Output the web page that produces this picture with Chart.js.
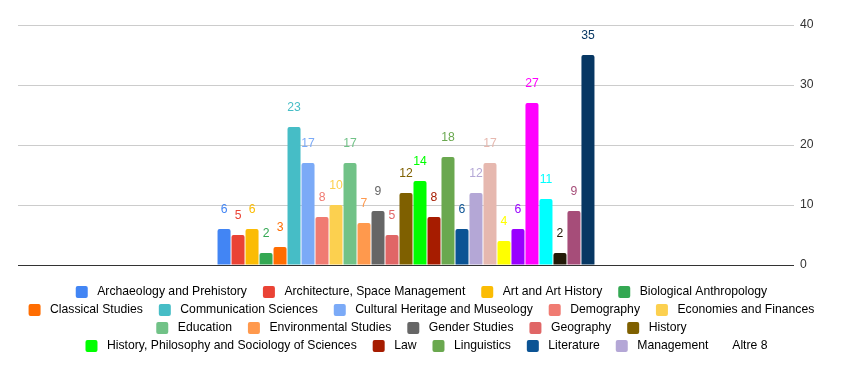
<!DOCTYPE html>
<html>
<head>
<meta charset="utf-8">
<script src="https://cdn.jsdelivr.net/npm/chart.js@4"></script>
<style>
  html, body { margin: 0; padding: 0; background: #fff; }
  #wrap { width: 841px; height: 371px; }
</style>
</head>
<body>
<div id="wrap"><canvas id="subjChart" width="841" height="371"></canvas></div>
<script>
// subjects (first 19 named in the legend, the rest grouped as "Altre 8")
const subjects = [
    "Archaeology and Prehistory", "Architecture, Space Management", "Art and Art History",
    "Biological Anthropology", "Classical Studies", "Communication Sciences",
    "Cultural Heritage and Museology", "Demography", "Economies and Finances",
    "Education", "Environmental Studies", "Gender Studies", "Geography", "History",
    "History, Philosophy and Sociology of Sciences", "Law", "Linguistics", "Literature",
    "Management", "Mathematics", "Methods and Statistics", "Musicology and Performing Arts",
    "Philosophy", "Political Science", "Psychology", "Religions", "Sociology"
];
const counts = [6, 5, 6, 2, 3, 23, 17, 8, 10, 17, 7, 9, 5, 12, 14, 8, 18, 6, 12, 17, 4, 6, 27, 11, 2, 9, 35];
const colours = [
    "#4285F4", "#EA4335", "#FBBC04", "#34A853", "#FF6D01", "#46BDC6", "#7BAAF7",
    "#F07B72", "#FCD04F", "#71C287", "#FF994D", "#666666", "#E06666", "#7F6000",
    "#00FF00", "#A61C00", "#6AA84F", "#0B5394", "#B4A7D6", "#E6B8AF", "#FFFF00",
    "#9900FF", "#FF00FF", "#00FFFF", "#231A08", "#A64D79", "#073763"
];
const legendShown = 19;
const otherLabel = "Altre 8";
const yTicks = [0, 10, 20, 30, 40];

const FONT = '"Liberation Sans", Arial, sans-serif';
const FSIZE = 12.2;

// value above each bar, in the bar's colour
const valueLabels = {
    id: 'valueLabels',
    afterDatasetsDraw(chart) {
        const ctx = chart.ctx;
        ctx.save();
        ctx.font = FSIZE + 'px ' + FONT;
        ctx.textAlign = 'center';
        ctx.textBaseline = 'middle';
        chart.data.datasets.forEach(function (ds, i) {
            const bar = chart.getDatasetMeta(i).data[0];
            ctx.fillStyle = ds.backgroundColor;
            ctx.fillText(ds.data[0], bar.x, bar.y - 19);
        });
        ctx.restore();
    }
};

var chrt = document.getElementById("subjChart").getContext("2d");
var chartId = new Chart(chrt, {
    type: 'bar',
    data: {
        labels: [""],
        datasets: subjects.map(function (name, i) {
            return {
                label: name,
                data: [counts[i]],
                backgroundColor: colours[i],
                borderRadius: {topLeft: 2, topRight: 2},
                borderSkipped: 'start',
                barPercentage: 0.93,
                categoryPercentage: 0.487
            };
        })
    },
    options: {
        responsive: false,
        animation: false,
        layout: {
            padding: {top: 25, left: 18, right: 6, bottom: 9}
        },
        scales: {
            x: {
                grid: {display: false},
                border: {display: false},
                ticks: {display: false},
                afterFit: function (s) { s.height = 15; }
            },
            y: {
                position: 'right',
                min: yTicks[0],
                max: yTicks[yTicks.length - 1],
                ticks: {
                    stepSize: 10,
                    padding: 6,
                    color: '#333',
                    font: {family: FONT, size: FSIZE}
                },
                grid: {
                    drawTicks: false,
                    color: function (c) { return c.tick.value === 0 ? '#333' : '#ccc'; }
                },
                border: {display: false},
                afterFit: function (s) { s.width = 41; }
            }
        },
        plugins: {
            tooltip: {enabled: false},
            legend: {
                position: 'bottom',
                labels: {
                    boxWidth: 12,
                    boxHeight: 12,
                    padding: 5.8,
                    useBorderRadius: true,
                    borderRadius: 2,
                    color: '#222',
                    font: {family: FONT, size: FSIZE},
                    generateLabels: function (chart) {
                        var items = chart.data.datasets.slice(0, legendShown).map(function (ds, i) {
                            var tail = i === legendShown - 1 ? '' : '   ';
                            return {
                                text: ' ' + ds.label + tail,
                                fillStyle: ds.backgroundColor,
                                strokeStyle: ds.backgroundColor,
                                lineWidth: 0,
                                borderRadius: 2,
                                hidden: false,
                                datasetIndex: i
                            };
                        });
                        items.push({
                            text: otherLabel,
                            fillStyle: 'rgba(0,0,0,0)',
                            strokeStyle: 'rgba(0,0,0,0)',
                            lineWidth: 0,
                            hidden: false,
                            datasetIndex: legendShown
                        });
                        return items;
                    }
                }
            }
        }
    },
    plugins: [valueLabels]
});
</script>
</body>
</html>
